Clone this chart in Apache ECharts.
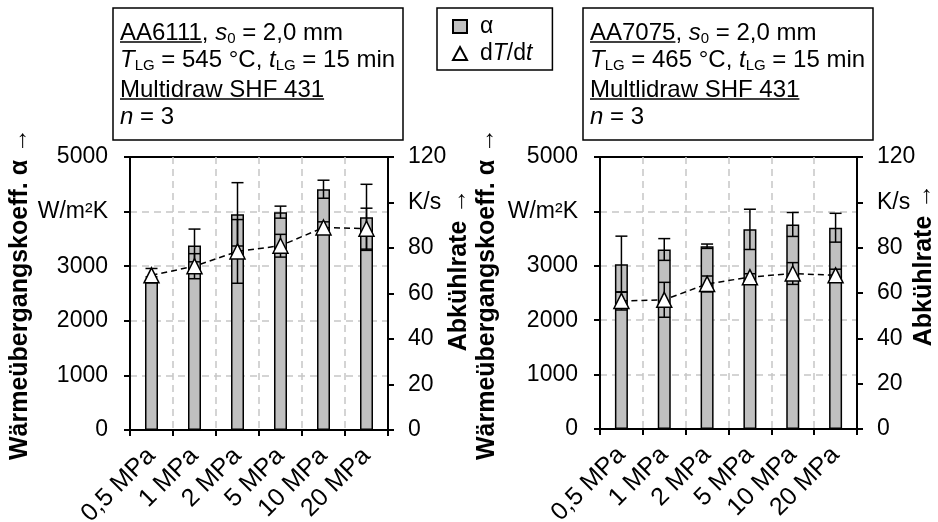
<!DOCTYPE html>
<html>
<head>
<meta charset="utf-8">
<title>Wärmeübergangskoeffizient und Abkühlrate</title>
<script src="https://cdn.jsdelivr.net/npm/echarts@6/dist/echarts.min.js"></script>
<style>
  html, body { margin: 0; padding: 0; background: #fff; }
  #chart { width: 938px; height: 522px; }
</style>
</head>
<body>
<div id="chart"></div>
<script>
// pressure levels
const categories = ['0,5 MPa', '1 MPa', '2 MPa', '5 MPa', '10 MPa', '20 MPa'];

// AA6111 (left chart)
const aa6111Alpha = [2750, 3380, 3950, 3990, 4410, 3895];
const aa6111AlphaErr = [55, 300, 580, 110, 165, 605];
const aa6111Rate = [68, 72, 78.5, 81, 89, 88.5];
const aa6111RateErr = [3, 5.5, 14, 5, 2.5, 9];

// AA7075 (right chart)
const aa7075Alpha = [3030, 3300, 3360, 3670, 3760, 3700];
const aa7075AlphaErr = [515, 200, 40, 370, 220, 265];
const aa7075Rate = [56.5, 57, 64, 67, 68.6, 67.8];
const aa7075RateErr = [4, 7.7, 3.5, 1.5, 4.8, 2.7];

const alphaTicks = { min: 0, max: 5000, step: 1000, unitAt: 4000, unit: 'W/m²K' };
const rateTicks = { min: 0, max: 120, step: 20, unitAt: 100, unit: 'K/s' };

const FONT = '"Liberation Sans", Arial, sans-serif';
const black = { color: '#000', width: 2 };
const gridDash = { color: '#c6c6c6', type: [7, 5], width: 1.5 };

const measureCtx = document.createElement('canvas').getContext('2d');
function textWidth(str, size) {
  measureCtx.font = size + 'px ' + FONT;
  return measureCtx.measureText(str).width;
}

function errorData(values, errs) {
  return values.map((v, i) => [i, v - errs[i], v + errs[i]]);
}

function renderErrorBar(params, api) {
  const lo = api.coord([api.value(0), api.value(1)]);
  const hi = api.coord([api.value(0), api.value(2)]);
  const half = 6;
  const style = { stroke: '#000', lineWidth: 1.5 };
  return {
    type: 'group',
    children: [
      { type: 'line', shape: { x1: hi[0], y1: hi[1], x2: lo[0], y2: lo[1] }, style },
      { type: 'line', shape: { x1: hi[0] - half, y1: hi[1], x2: hi[0] + half, y2: hi[1] }, style },
      { type: 'line', shape: { x1: lo[0] - half, y1: lo[1], x2: lo[0] + half, y2: lo[1] }, style }
    ]
  };
}

function xAxisFor(g) {
  return {
    gridIndex: g, type: 'category', data: categories,
    axisLine: { lineStyle: black },
    axisTick: { show: true, interval: 0, length: 6, lineStyle: black },
    axisLabel: { interval: 0, rotate: 45, margin: 22, fontSize: 25, color: '#000', fontFamily: FONT },
    splitLine: { show: true, interval: 0, lineStyle: gridDash }
  };
}

function yAxisFor(g, ticks, pos) {
  return {
    gridIndex: g, type: 'value', position: pos,
    min: ticks.min, max: ticks.max, interval: ticks.step,
    axisLine: { show: true, lineStyle: black },
    axisTick: { show: true, length: 6, lineStyle: black },
    axisLabel: {
      margin: pos === 'left' ? 22 : 20, fontSize: 23, color: '#000', fontFamily: FONT,
      formatter: v => (v === ticks.unitAt ? ticks.unit : String(v))
    },
    splitLine: { show: pos === 'left', showMaxLine: false, lineStyle: gridDash }
  };
}

function seriesFor(g, alpha, alphaErr, rate, rateErr) {
  const xi = g, ya = g * 2, yr = g * 2 + 1;
  return [
    {
      name: 'α', type: 'bar', xAxisIndex: xi, yAxisIndex: ya, data: alpha,
      barWidth: 13, z: 2,
      itemStyle: { color: '#c0c0c0', borderColor: '#000', borderWidth: 1.5 }
    },
    {
      type: 'custom', xAxisIndex: xi, yAxisIndex: ya, z: 3,
      data: errorData(alpha, alphaErr), encode: { x: 0, y: [1, 2] },
      renderItem: renderErrorBar
    },
    {
      type: 'custom', xAxisIndex: xi, yAxisIndex: yr, z: 3,
      data: errorData(rate, rateErr), encode: { x: 0, y: [1, 2] },
      renderItem: renderErrorBar
    },
    {
      name: 'dT/dt', type: 'line', xAxisIndex: xi, yAxisIndex: yr, data: rate, z: 5,
      symbol: 'triangle', symbolSize: 15,
      lineStyle: { color: '#000', width: 1.5, type: [6, 4] },
      itemStyle: { color: '#fff', borderColor: '#000', borderWidth: 1.5 }
    }
  ];
}

const BOX_FS = 24;
const sub = { fontSize: 15, fontFamily: FONT, fill: '#000', padding: [12, 0, 0, 0] };
const ital = { fontSize: BOX_FS, fontFamily: FONT, fill: '#000', fontStyle: 'italic' };

function infoBox(left, top, alloy, temp, machine) {
  const tx = left + 7;
  const ys = [top + 25, top + 52, top + 82, top + 109];
  const lines = [
    alloy + ', {i|s}{s|0} = 2,0 mm',
    '{i|T}{s|LG} = ' + temp + ' °C, {i|t}{s|LG} = 15 min',
    machine,
    '{i|n} = 3'
  ];
  const items = [{
    type: 'rect', shape: { x: left, y: top, width: 290, height: 132 },
    style: { fill: '#fff', stroke: '#000', lineWidth: 1.5 }
  }];
  lines.forEach((t, k) => {
    items.push({
      type: 'text', x: tx, y: ys[k],
      style: {
        text: t, fontSize: BOX_FS, fontFamily: FONT, fill: '#000',
        align: 'left', verticalAlign: 'middle', rich: { i: ital, s: sub }
      }
    });
  });
  [[alloy, ys[0]], [machine, ys[2]]].forEach(([str, y]) => {
    items.push({
      type: 'line', shape: { x1: tx, y1: y + 9, x2: tx + textWidth(str, BOX_FS), y2: y + 9 },
      style: { stroke: '#000', lineWidth: 1.3 }
    });
  });
  return { type: 'group', children: items };
}

function rotatedTitle(text, x, y) {
  return {
    type: 'text', x: x, y: y, rotation: Math.PI / 2,
    style: {
      text: text, fontSize: 25, fontWeight: 'bold', fontFamily: FONT, fill: '#000',
      align: 'center', verticalAlign: 'middle'
    }
  };
}

const chart = echarts.init(document.getElementById('chart'));
chart.setOption({
  animation: false,
  backgroundColor: '#fff',
  grid: [
    { left: 130, top: 157, width: 258, height: 273, outerBoundsMode: 'none',
      show: true, borderColor: '#000', borderWidth: 2 },
    { left: 600, top: 157, width: 257, height: 272, outerBoundsMode: 'none',
      show: true, borderColor: '#000', borderWidth: 2 }
  ],
  legend: {
    left: 437, top: 8, orient: 'vertical', selectedMode: false,
    padding: [7, 20, 5, 15], itemGap: 4, itemWidth: 14, itemHeight: 13,
    borderColor: '#000', borderWidth: 1.5, backgroundColor: '#fff',
    data: [{ name: 'α', icon: 'rect' }, { name: 'dT/dt', icon: 'triangle' }],
    formatter: name => (name === 'dT/dt' ? 'd{i|T}/d{i|t}' : name),
    textStyle: {
      fontSize: 23, color: '#000', fontFamily: FONT, padding: [0, 0, 0, 8],
      rich: { i: { fontSize: 23, fontFamily: FONT, color: '#000', fontStyle: 'italic' } }
    }
  },
  xAxis: [xAxisFor(0), xAxisFor(1)],
  yAxis: [
    yAxisFor(0, alphaTicks, 'left'), yAxisFor(0, rateTicks, 'right'),
    yAxisFor(1, alphaTicks, 'left'), yAxisFor(1, rateTicks, 'right')
  ],
  series: [
    ...seriesFor(0, aa6111Alpha, aa6111AlphaErr, aa6111Rate, aa6111RateErr),
    ...seriesFor(1, aa7075Alpha, aa7075AlphaErr, aa7075Rate, aa7075RateErr)
  ],
  graphic: [
    infoBox(113, 8, 'AA6111', '545', 'Multidraw SHF 431'),
    infoBox(583, 8, 'AA7075', '465', 'Multlidraw SHF 431'),
    rotatedTitle('Wärmeübergangskoeff. α →', 20, 294),
    rotatedTitle('Abkühlrate →', 459, 270),
    rotatedTitle('Wärmeübergangskoeff. α →', 487, 294),
    rotatedTitle('Abkühlrate →', 924, 265)
  ]
});
</script>
</body>
</html>
